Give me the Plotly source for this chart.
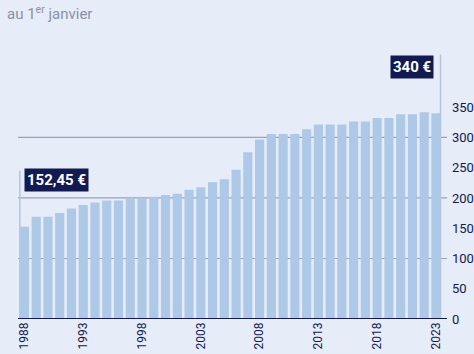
import plotly.graph_objects as go

years = list(range(1988, 2024))
values = [152.45, 169, 169, 175, 182.5, 188.5, 192.5, 196, 196, 199, 199, 202,
          205, 207, 213.5, 217.5, 226, 231, 246.5, 275.5, 296.5, 305.5, 305.5, 305.5,
          313.5, 321.5, 321.5, 321.5, 326.5, 326.5, 332, 332, 338.5, 338.5, 341.5, 340]
year_ticks = [1988, 1993, 1998, 2003, 2008, 2013, 2018, 2023]
y_ticks = [0, 50, 100, 150, 200, 250, 300, 350]
grid_vals = [100, 200, 300]
first_label = "152,45 €"
last_label = "340 €"

NAVY = "#121a52"
BG = "#e6ecf8"
BAR = "#aec8e8"
GRID = "#9aa2b4"
FONT = "Roboto, sans-serif"

fig = go.Figure(go.Bar(x=years, y=values, marker=dict(color=BAR, line=dict(width=0)),
                       width=0.78, hoverinfo="skip"))

shapes = []
for g in grid_vals:
    shapes.append(dict(type="line", xref="paper", yref="y", x0=0, x1=1, y0=g, y1=g,
                       line=dict(color=GRID, width=1.2), layer="below"))
shapes.append(dict(type="line", xref="paper", yref="y", x0=0, x1=1, y0=0, y1=0,
                   line=dict(color=NAVY, width=2), layer="above"))
shapes.append(dict(type="line", xref="x", yref="y", x0=years[0] - 0.39, x1=years[0] - 0.39,
                   y0=0, y1=245, line=dict(color="#b4c4dc", width=1.5), layer="below"))
shapes.append(dict(type="line", xref="x", yref="y", x0=years[-1] + 0.39, x1=years[-1] + 0.39,
                   y0=0, y1=437, line=dict(color="#b4c4dc", width=1.5), layer="below"))

annotations = [
    dict(text="au 1<sup>er</sup> janvier", xref="paper", yref="paper", x=-13/429, y=1 + 27/279,
         xanchor="left", yanchor="middle", showarrow=False,
         font=dict(family=FONT, size=15, color="#8a92a6")),
    dict(text="<b>" + first_label + "</b>", xref="x", yref="y", x=years[0] + 0.0, y=229,
         xanchor="left", yanchor="middle", showarrow=False, bgcolor=NAVY, borderpad=2,
         font=dict(family=FONT, size=15, color="white")),
    dict(text="<b>" + last_label + "</b>", xref="x", yref="y", x=years[-1] - 0.2, y=416,
         xanchor="right", yanchor="middle", showarrow=False, bgcolor=NAVY, borderpad=2,
         font=dict(family=FONT, size=15, color="white")),
]

fig.update_layout(
    width=474, height=354,
    margin=dict(l=18, r=27, t=40, b=35, autoexpand=False),
    paper_bgcolor=BG, plot_bgcolor=BG,
    showlegend=False,
    shapes=shapes, annotations=annotations,
    xaxis=dict(range=[1987.45, 2023.94], tickvals=year_ticks, ticktext=[str(t) for t in year_ticks],
               tickangle=-90, showgrid=False, zeroline=False, showline=False, ticks="",
               automargin=False,
               tickfont=dict(family=FONT, size=12, color=NAVY), fixedrange=True),
    yaxis=dict(range=[0, 461], side="right", tickvals=y_ticks, showgrid=False, zeroline=False,
               showline=False, ticks="", ticklabelstandoff=4, automargin=False,
               tickfont=dict(family=FONT, size=13, color=NAVY), fixedrange=True),
)

fig.write_html("out.html", config={"displayModeBar": False})
